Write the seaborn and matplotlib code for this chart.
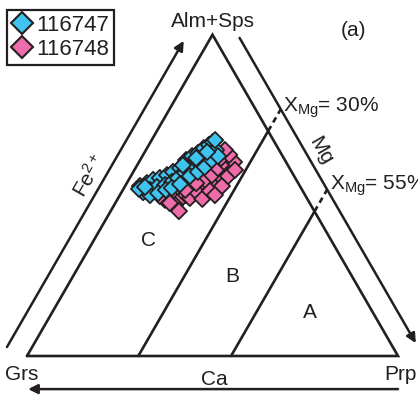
import numpy as np
import pandas as pd
import matplotlib
matplotlib.use("Agg")
import matplotlib.pyplot as plt
import seaborn as sns

sns.set_theme(style="white")
plt.rcParams["font.family"] = ["Liberation Sans", "DejaVu Sans"]
plt.rcParams["mathtext.fontset"] = "custom"
plt.rcParams["mathtext.rm"] = "Liberation Sans"
plt.rcParams["mathtext.it"] = "Liberation Sans"

# Garnet end-member proportions (mol %); grossular is the remainder
alm_116747 = [52.9, 53.8, 54.8, 55.4, 56.3, 57.3, 58.5, 61.0, 62.2, 63.2, 64.7, 65.7, 66.6,
              51.0, 51.7, 52.6, 53.2, 54.2, 55.4, 57.0, 58.8, 60.1, 61.6, 63.5, 64.1,
              50.1, 50.7, 51.7, 52.3, 53.5, 56.0, 57.3, 58.8, 61.0, 62.2,
              59.4, 61.6, 63.5, 67.2, 52.0, 52.6]
prp_116747 = [4.0, 5.4, 6.6, 8.1, 9.6, 10.7, 12.0, 12.4, 13.4, 14.5, 15.3, 16.2, 16.8,
              5.8, 7.3, 8.7, 10.6, 12.0, 13.0, 14.1, 15.1, 16.3, 17.4, 18.1, 18.9,
              8.1, 10.0, 11.6, 12.9, 14.5, 15.9, 17.4, 18.5, 19.3, 20.4,
              12.3, 14.8, 16.8, 17.1, 4.2, 5.5]

alm_116748 = [48.6, 49.5, 48.6, 50.1, 51.0, 51.7, 52.9, 54.2, 56.0, 57.9, 59.4,
              47.0, 45.1, 49.2, 50.7, 54.8, 56.3, 58.5, 60.4, 61.6, 53.8, 51.7,
              48.9, 51.4, 52.9, 56.0, 60.4, 62.6, 64.1, 47.6, 50.1, 57.9, 49.8]
prp_116748 = [12.9, 14.4, 16.9, 17.8, 19.2, 20.8, 22.0, 23.0, 24.0, 24.7, 25.0,
              16.4, 18.4, 19.3, 20.7, 20.6, 21.7, 22.2, 22.9, 21.5, 18.7, 16.8,
              22.8, 23.6, 26.1, 26.2, 25.6, 23.2, 21.3, 14.7, 25.6, 27.1, 10.9]

samples = ["116747", "116748"]
sample_colors = ["#3FC4F0", "#EE6CA9"]

# Field boundaries (Prp fraction) and X_Mg labels
field_bounds = [0.30, 0.55]
xmg_labels = ["30%", "55%"]

H = np.sqrt(3) / 2


def tern(alm, prp):
    """Alm+Sps / Prp fractions -> Cartesian (Grs at origin, Prp at (1, 0))."""
    alm = np.asarray(alm, dtype=float)
    prp = np.asarray(prp, dtype=float)
    return prp + alm / 2, alm * H


W, Hpx = 418, 396
fig = plt.figure(figsize=(W / 100, Hpx / 100), dpi=100)
ax = fig.add_axes([0, 0, 1, 1])
scale = 371.0
ax.set_xlim(-27 / scale, (W - 27) / scale)
ax.set_ylim((356 - Hpx) / scale, 356 / scale)
ax.axis("off")

ink = "#231f20"
lw = 1.9
# triangle outline
tx, ty = tern([0, 0, 1, 0], [0, 1, 0, 0])
ax.plot(tx, ty, color=ink, lw=lw, solid_joinstyle="miter", zorder=2)

off = 0.068
# field boundaries with dashed extension to the Mg axis
for p in field_bounds:
    x0, y0 = tern(0, p)
    x1, y1 = tern(1 - p, p)
    ax.plot([x0, x1], [y0, y1], color=ink, lw=lw, zorder=2)
    x2, y2 = tern(1 - p + off, p)
    ax.plot([x1, x2], [y1, y2], color=ink, lw=lw, ls=(0, (2.2, 1.6)), zorder=2)

arrow_kw = dict(arrowstyle="-|>", color=ink, lw=1.8, mutation_scale=14, shrinkA=0, shrinkB=0)
# Fe2+ axis (parallel to Grs - Alm edge)
a0 = tern(0.028, -off)
a1 = tern(0.981, -off)
ax.annotate("", xy=a1, xytext=a0, arrowprops=arrow_kw)
# Mg axis (parallel to Alm - Prp edge)
m0 = tern(0.99, 1 + off - 0.99)
m1 = tern(0.04, 1 + off - 0.04)
ax.annotate("", xy=m1, xytext=m0, arrowprops=arrow_kw)
# Ca axis (below the base)
c0 = tern(-0.103, 1.0 + 0.0515)
c1 = tern(-0.103, 0.003 + 0.0515)
ax.annotate("", xy=c1, xytext=c0, arrowprops=arrow_kw)

# data
frames = []
for name, alm, prp in [(samples[0], alm_116747, prp_116747), (samples[1], alm_116748, prp_116748)]:
    x, y = tern(np.array(alm) / 100, np.array(prp) / 100)
    frames.append(pd.DataFrame({"x": x, "y": y, "sample": name}))
df = pd.concat([frames[1], frames[0]], ignore_index=True)

sns.scatterplot(data=df, x="x", y="y", hue="sample", hue_order=samples,
                palette=dict(zip(samples, sample_colors)), marker="D", s=68,
                edgecolor=ink, linewidth=1.3, ax=ax, zorder=3, legend=False)

# labels
fs = 15


def ftxt(x, y, s, **kw):
    fig.text(x / W, 1 - y / Hpx, s, fontsize=kw.pop("fontsize", fs), color=ink, **kw)


ftxt(213, 27, "Alm+Sps", ha="center", va="baseline")
ftxt(353, 30, "(a)", ha="center", va="center")
ftxt(22, 380, "Grs", ha="center", va="baseline")
ftxt(214, 385, "Ca", ha="center", va="baseline")
ftxt(400, 380, "Prp", ha="center", va="baseline")
ftxt(310, 312, "A", ha="center", va="center")
ftxt(232, 277, "B", ha="center", va="center")
ftxt(148, 241, "C", ha="center", va="center")
ftxt(89, 176, r"Fe$^{2+}$", ha="center", va="center", rotation=60, rotation_mode="anchor")
ftxt(321, 151, "Mg", ha="center", va="center", rotation=-60, rotation_mode="anchor")
ftxt(283, 112, r"X$_{\mathrm{Mg}}$= " + xmg_labels[0], ha="left", va="baseline")
ftxt(330, 190, r"X$_{\mathrm{Mg}}$= " + xmg_labels[1], ha="left", va="baseline")

# legend
handles = [plt.Line2D([], [], marker="D", ls="", markersize=11, markerfacecolor=c,
                      markeredgecolor=ink, markeredgewidth=1.5) for c in sample_colors]
leg = ax.legend(handles, samples, loc="upper left", bbox_to_anchor=(7 / W, 1 - 10 / Hpx),
                bbox_transform=fig.transFigure, frameon=True, fancybox=False,
                edgecolor=ink, fontsize=16, borderaxespad=0, borderpad=0.22,
                handlelength=0.9, handletextpad=0.2, labelspacing=0.15, framealpha=1)
leg.get_frame().set_linewidth(1.6)
for t in leg.get_texts():
    t.set_color(ink)

fig.savefig("out.png", dpi=100)
